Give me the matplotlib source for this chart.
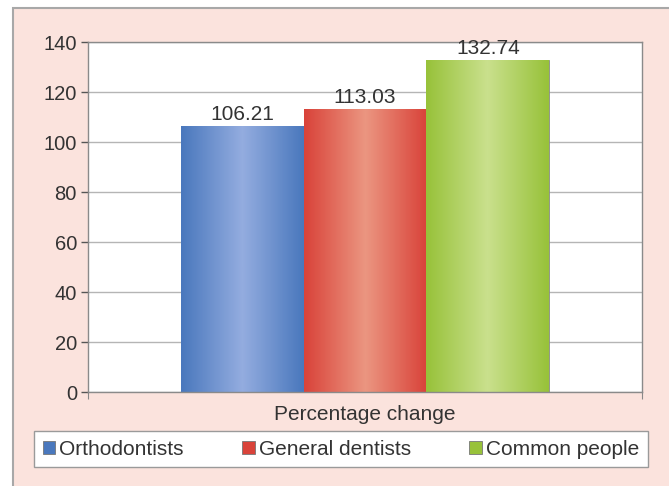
import matplotlib.pyplot as plt
import matplotlib.patches as mpatches
import numpy as np
from matplotlib.colors import LinearSegmentedColormap

plt.rcParams['font.family'] = ['Liberation Sans', 'DejaVu Sans']

groups = ['Orthodontists', 'General dentists', 'Common people']
values = [106.21, 113.03, 132.74]
category = 'Percentage change'
yticks = [0, 20, 40, 60, 80, 100, 120, 140]

# edge, centre highlight for each bar
edge_colors = ['#4a78bd', '#d9433a', '#98c23a']
mid_colors = ['#93acdf', '#eb9580', '#c9e08c']

W, H = 669, 486
fig = plt.figure(figsize=(W / 100, H / 100), dpi=100)
fig.patch.set_facecolor('white')

# pink chart area with grey frame
frame = mpatches.Rectangle((13 / W, -0.01), 1.02, 1 - 8 / H + 0.01, transform=fig.transFigure,
                           facecolor='#fbe3dd', edgecolor='#a8a8a8', linewidth=1.5, zorder=-1)
fig.patches.append(frame)

ax = fig.add_axes([88 / W, 1 - 392 / H, (642 - 88) / W, (392 - 42) / H])
ax.set_zorder(1)
ax.set_facecolor('white')
ax.set_ylim(0, 140)
ax.set_xlim(-0.5, 0.5)
ax.set_yticks(yticks)
ax.tick_params(axis='y', labelsize=14.5, colors='#555555', labelcolor='#333333', length=5,
               width=1, pad=3)
ax.set_xticks([-0.5, 0.5])
ax.set_xticklabels([])
ax.tick_params(axis='x', length=5, colors='#888888')
for s in ax.spines.values():
    s.set_color('#8a8a8a')
    s.set_linewidth(1)
ax.grid(axis='y', color='#b5b5b5', linewidth=1)
ax.set_axisbelow(True)

bw = 0.222
offsets = np.array([-1, 0, 1]) * bw
bars = ax.bar(offsets, values, width=bw, color=edge_colors, edgecolor='#8a8a8a',
              linewidth=0.6, zorder=2)

grad = np.concatenate([np.linspace(0, 1, 50), np.linspace(1, 0, 50)]).reshape(1, -1)
for b, c0, c1 in zip(bars, edge_colors, mid_colors):
    cmap = LinearSegmentedColormap.from_list('g', [c0, c1])
    x0, w, h = b.get_x(), b.get_width(), b.get_height()
    im = ax.imshow(grad, cmap=cmap, aspect='auto', extent=(x0, x0 + w, 0, h), zorder=2.5)
    im.set_clip_path(b)
    ax.text(x0 + w / 2, h + 1.0, f'{h:.2f}', ha='center', va='bottom', fontsize=15,
            color='#333333', zorder=3)
ax.set_ylim(0, 140)
ax.set_xlim(-0.5, 0.5)

ax.set_xlabel(category, fontsize=15, color='#333333', labelpad=1)

handles = [mpatches.Patch(facecolor=c, edgecolor='#777777', linewidth=0.6) for c in edge_colors]
leg = fig.legend(handles, groups, loc='center', bbox_to_anchor=(341 / W, 1 - 449 / H),
                 ncol=3, fontsize=15, frameon=True, fancybox=False, handlelength=0.6,
                 handleheight=0.6, handletextpad=0.2, columnspacing=2.8, borderpad=0.4,
                 borderaxespad=0, framealpha=1)
leg.get_frame().set_edgecolor('#9a9a9a')
leg.get_frame().set_facecolor('white')
leg.get_frame().set_linewidth(1)
for t in leg.get_texts():
    t.set_color('#333333')

fig.savefig('out.png', dpi=100)
